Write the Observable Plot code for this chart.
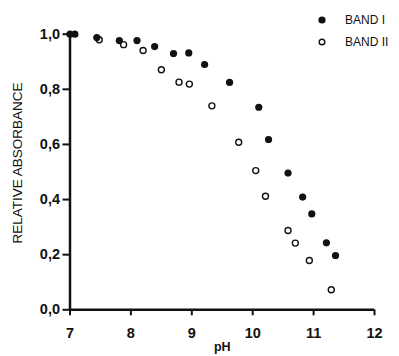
<!DOCTYPE html>
<html><head><meta charset="utf-8">
<script src="https://cdn.jsdelivr.net/npm/d3@7"></script>
<script src="https://cdn.jsdelivr.net/npm/@observablehq/plot@0.6"></script>
<style>
body{margin:0;background:#fff;font-family:"Liberation Sans",Arial,sans-serif;}
#wrap{position:relative;width:399px;height:356px;}
#legend{position:absolute;left:317px;top:9px;font-size:12px;color:#111;line-height:22px;}
#legend div{display:flex;align-items:center;}
#legend svg{margin-right:18px;}
</style></head>
<body><div id="wrap"><div id="legend"></div></div>
<script>
const band1_pH = [7.0, 7.08, 7.44, 7.81, 8.10, 8.39, 8.70, 8.95, 9.21, 9.62, 10.10, 10.26, 10.58, 10.82, 10.97, 11.21, 11.36];
const band1_abs = [1.0, 1.0, 0.988, 0.977, 0.977, 0.955, 0.93, 0.932, 0.89, 0.825, 0.735, 0.618, 0.496, 0.409, 0.348, 0.243, 0.197];
const band2_pH = [7.48, 7.88, 8.20, 8.50, 8.79, 8.96, 9.33, 9.77, 10.05, 10.21, 10.58, 10.70, 10.93, 11.29];
const band2_abs = [0.98, 0.962, 0.941, 0.871, 0.826, 0.819, 0.740, 0.608, 0.505, 0.412, 0.288, 0.242, 0.179, 0.073];
const xTicks = [7, 8, 9, 10, 11, 12];
const yTicks = [0, 0.2, 0.4, 0.6, 0.8, 1.0];
const seriesNames = ["BAND I", "BAND II"];

const b1 = band1_pH.map((x, i) => ({x, y: band1_abs[i]}));
const b2 = band2_pH.map((x, i) => ({x, y: band2_abs[i]}));
const fmt = d => d3.format(".1f")(d).replace(".", ",");

const chart = Plot.plot({
  width: 399, height: 356,
  marginLeft: 69.5, marginRight: 25, marginTop: 33.7, marginBottom: 46.7,
  style: {fontFamily: '"Liberation Sans", Arial, sans-serif', background: "white", color: "#111"},
  x: {domain: [7, 12]},
  y: {domain: [0, 1]},
  marks: [
    Plot.axisX({ticks: xTicks, tickSize: 6, tickPadding: 12, tickFormat: d => String(d), fontSize: 14.5, fontWeight: "bold", stroke: "#111", strokeWidth: 2, label: null}),
    Plot.axisY({ticks: yTicks, tickSize: 7, tickPadding: 3, tickFormat: fmt, fontSize: 14.5, fontWeight: "bold", stroke: "#111", strokeWidth: 2, label: null}),
    Plot.ruleY([0], {stroke: "#111", strokeWidth: 2.5}),
    Plot.ruleX([7], {stroke: "#111", strokeWidth: 2.5}),
    Plot.dot(b2, {x: "x", y: "y", r: 3, fill: "white", stroke: "#111", strokeWidth: 1.4}),
    Plot.dot(b1, {x: "x", y: "y", r: 3.6, fill: "#111", stroke: "none"}),
    Plot.text(["RELATIVE ABSORBANCE"], {frameAnchor: "left", dx: -52, dy: -9, rotate: -90, fontSize: 13.5, fill: "#111", textAnchor: "middle", letterSpacing: "1px"}),
    Plot.text(["pH"], {frameAnchor: "bottom", dy: 41, fontSize: 12.5, fontWeight: "bold", fill: "#111"})
  ]
});
document.getElementById("wrap").prepend(chart);

const legend = document.getElementById("legend");
seriesNames.forEach((name, i) => {
  const row = document.createElement("div");
  const circ = i === 0
    ? '<svg width="10" height="10"><circle cx="5" cy="5" r="3.6" fill="#111"/></svg>'
    : '<svg width="10" height="10"><circle cx="5" cy="5" r="2.8" fill="white" stroke="#111" stroke-width="1.4"/></svg>';
  row.innerHTML = circ + '<span>' + name + '</span>';
  legend.appendChild(row);
});
</script></body></html>
